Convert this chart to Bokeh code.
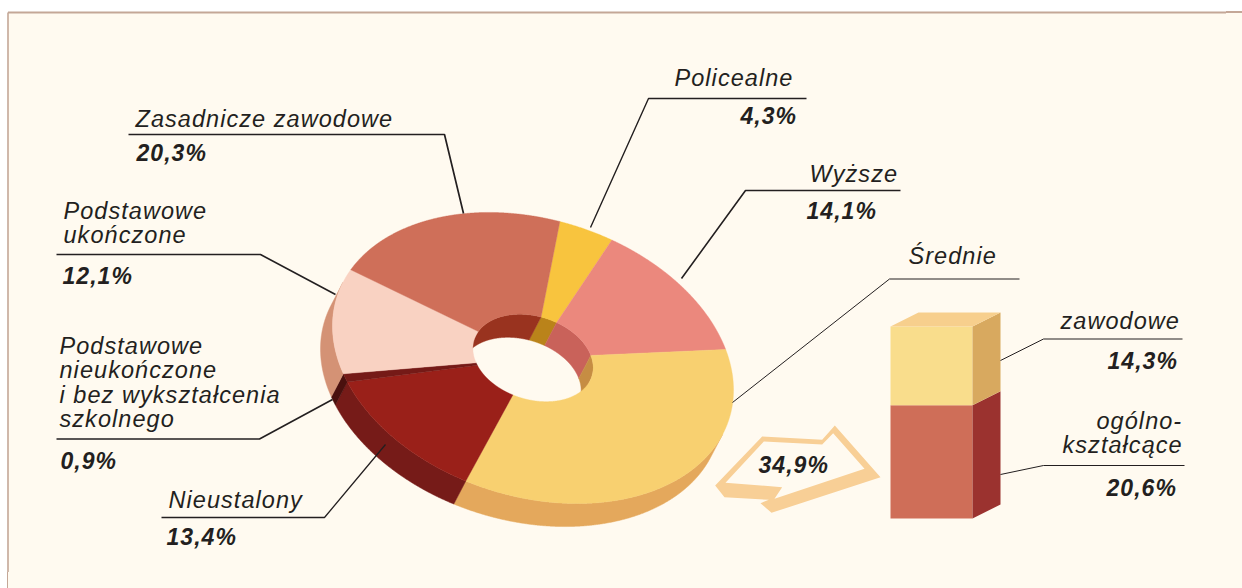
import numpy as np
from bokeh.plotting import figure
from bokeh.models import ColumnDataSource
from bokeh.core.properties import value
from bokeh.embed import file_html
from bokeh.resources import INLINE

# ---- data ----
categories = ["Policealne", "Wyższe", "Średnie", "Nieustalony",
              "Podstawowe nieukończone i bez wykształcenia szkolnego",
              "Podstawowe ukończone", "Zasadnicze zawodowe"]
shares = [4.3, 14.1, 34.9, 13.4, 0.9, 12.1, 20.3]
secondary_parts = ["ogólnokształcące", "zawodowe"]
secondary_values = [20.6, 14.3]
secondary_total_label = "34,9%"

face_colors = ["#f8c43e", "#eb887d", "#f8d070", "#9a2019", "#751a17", "#f9d2c2", "#cf6f59"]
side_colors = ["#ba831a", "#c9625a", "#e4a85c", "#761b18", "#4a100e", "#d49275", "#98301f"]
wall_colors = ["#ba831a", "#c9625a", "#c68d43", "#761b18", "#4a100e", "#d49275", "#99331f"]
bar_front = ["#cf6e58", "#f9dd8c"]
bar_side = ["#9b322f", "#d8a95f"]
BAR_TOP = "#f7cf8d"
BG = "#fffaf0"
INK = "#231f20"
FRAME = "#c4a797"

p = figure(width=1226, height=572, x_range=(0, 1226), y_range=(572, 0),
           output_backend="svg", toolbar_location=None, min_border=0,
           x_axis_location=None, y_axis_location=None,
           background_fill_color="#ffffff", border_fill_color="#ffffff")
p.grid.visible = False
p.outline_line_color = None
p.styles = {
    "letter-spacing": "1.05px",
    "box-shadow": (f"16px 16px 0 0 {BG}, 16px 13px 0 0 {BG}, 8px 16px 0 0 {BG}, "
                   f"16px 11px 0 0 {FRAME}, 7px 16px 0 0 {FRAME}"),
}

# page frame
p.quad(left=7.5, right=1226, top=12, bottom=572, fill_color=BG, line_color=None)
p.line([7.5, 1226], [12, 12], line_color=FRAME, line_width=2)
p.line([7.5, 7.5], [12, 572], line_color=FRAME, line_width=1.6)

# ---- 3D doughnut: a sheared circle ----
CX, CY = 532.5, 357.5
SX, SHEAR, SY = 200.5, 32.0, 142.0
HOLE = 0.30
OFF_X, OFF_Y = -12.0, 23.0
START = -82.3


def ring(t, r, dx=0.0, dy=0.0):
    c, s = np.cos(np.radians(t)), np.sin(np.radians(t))
    return CX + dx + r * SX * c, CY + dy + r * (SHEAR * c + SY * s)


u1 = OFF_X / SX
u2 = (OFF_Y - SHEAR * u1) / SY
facing = np.degrees(np.arctan2(u2, u1))

edges = START + np.concatenate([[0], np.cumsum(shares)]) * 3.6
arcs = [np.arange(a, b + 0.001, 0.2) for a, b in zip(edges[:-1], edges[1:])]
arcs = [np.append(t, b) for t, b in zip(arcs, edges[1:])]


def strip(t, r):
    x1, y1 = ring(t, r)
    x2, y2 = ring(t[::-1], r, OFF_X, OFF_Y)
    return list(np.concatenate([x1, x2])), list(np.concatenate([y1, y2]))


side = dict(xs=[], ys=[], color=[])
wall = dict(xs=[], ys=[], color=[])
for t, sc, wc in zip(arcs, side_colors, wall_colors):
    vis = np.cos(np.radians(t - facing)) >= 0
    if vis.sum() > 1:
        xs, ys = strip(t[vis], 1.0)
        side["xs"].append(xs); side["ys"].append(ys); side["color"].append(sc)
    if (~vis).sum() > 1:
        xs, ys = strip(t[~vis], HOLE)
        wall["xs"].append(xs); wall["ys"].append(ys); wall["color"].append(wc)

p.patches("xs", "ys", source=ColumnDataSource(side), fill_color="color", line_color="color", line_width=0.5)
p.patches("xs", "ys", source=ColumnDataSource(wall), fill_color="color", line_color="color", line_width=0.5)

face = dict(xs=[], ys=[], color=[], name=[])
for t, col, name in zip(arcs, face_colors, categories):
    x1, y1 = ring(t, 1.0)
    x2, y2 = ring(t[::-1], HOLE)
    face["xs"].append(list(np.concatenate([x1, x2])))
    face["ys"].append(list(np.concatenate([y1, y2])))
    face["color"].append(col)
    face["name"].append(name)
p.patches("xs", "ys", source=ColumnDataSource(face), fill_color="color", line_color="color", line_width=0.4)

# ---- stacked 3D bar ----
BAR_L, BAR_R, BAR_BASE = 890, 972, 518
PX_PER_PCT = 5.5
DX, DY = 28, -14
lo = BAR_BASE - np.concatenate([[0], np.cumsum(secondary_values)[:-1]]) * PX_PER_PCT
hi = BAR_BASE - np.cumsum(secondary_values) * PX_PER_PCT
p.quad(left=BAR_L, right=BAR_R, top=hi, bottom=lo, fill_color=bar_front, line_color=None)
p.patches([[BAR_R, BAR_R + DX, BAR_R + DX, BAR_R] for _ in lo],
          [[l, l + DY, h + DY, h] for l, h in zip(lo, hi)],
          fill_color=bar_side, line_color=None)
p.patch([BAR_L, BAR_L + DX, BAR_R + DX, BAR_R],
        [hi[-1], hi[-1] + DY, hi[-1] + DY, hi[-1]], fill_color=BAR_TOP, line_color=None)

# ---- hollow arrow ----
def zoomed(pts):
    return [700 + a / 3 for a, _ in pts], [240 + b / 3 for _, b in pts]

ax, ay = zoomed([(185, 588), (365, 598), (403, 555), (540, 710), (213, 817), (180, 788),
                 (205, 778), (72, 770), (44, 735)])
p.patch(ax, ay, fill_color="#f8cf96", line_color=None)
ax, ay = zoomed([(190, 603), (365, 612), (398, 578), (492, 685), (222, 775), (245, 740), (75, 727)])
p.patch(ax, ay, fill_color=BG, line_color=None)

# ---- leader lines ----
leaders = [
    ([128, 444, 463], [134, 134, 213], 1.7),
    ([56, 260, 335], [254, 254, 294], 1.6),
    ([56, 259, 332], [438.5, 438.5, 399], 1.6),
    ([161, 324, 385], [517, 517, 444], 1.3),
    ([806, 648, 590], [98, 98, 227], 1.4),
    ([900, 745, 681], [190, 190, 278], 1.6),
    ([1019, 889, 732], [278.5, 278.5, 402], 1.0),
    ([1182, 1043, 1000], [338.5, 338.5, 360], 1.0),
    ([1184, 1043, 1000], [465, 465, 474], 1.0),
]
for lx, ly, lw in leaders:
    p.line(lx, ly, line_color=INK, line_width=lw)

# ---- texts ----
names = [
    ("Zasadnicze zawodowe", 135, 126), ("Podstawowe", 63, 218), ("ukończone", 63, 242),
    ("Podstawowe", 59, 353), ("nieukończone", 59, 377), ("i bez wykształcenia", 59, 402),
    ("szkolnego", 59, 426), ("Nieustalony", 168, 507), ("Policealne", 674, 85),
    ("Wyższe", 809, 181), ("Średnie", 908, 263), ("zawodowe", 1060, 328),
    ("ogólno-", 1096, 428), ("kształcące", 1062, 452),
]
percents = [
    ("20,3%", 136, 160), ("12,1%", 62, 283), ("0,9%", 60, 468), ("13,4%", 166, 544),
    ("4,3%", 740, 123), ("14,1%", 806, 218), ("14,3%", 1107, 368), ("20,6%", 1106, 495),
    (secondary_total_label, 758, 472),
]
for rows, style, size in ((names, "italic", "23.5px"), (percents, "bold italic", "23px")):
    p.text([r[1] for r in rows], [r[2] for r in rows], text=[r[0] for r in rows],
           text_font=value("Liberation Sans"), text_font_style=style, text_font_size=size,
           text_color=INK, text_align="left", text_baseline="alphabetic", y_offset=-8)

open("out.html", "w").write(file_html(p, INLINE))
